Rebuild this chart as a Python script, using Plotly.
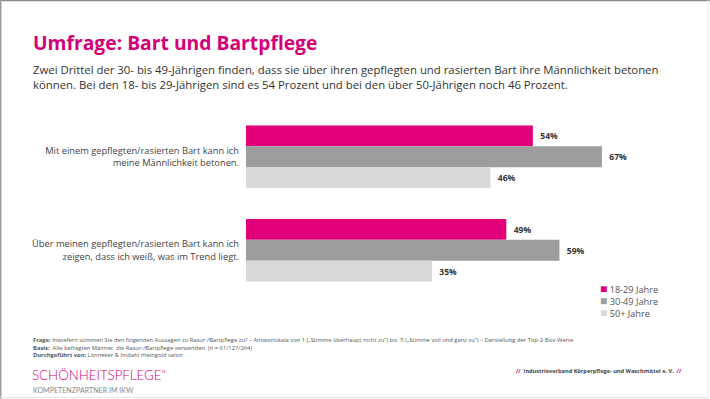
import plotly.graph_objects as go

# ---- data ----
categories = [
    "Mit einem gepflegten/rasierten Bart kann ich<br>meine Männlichkeit betonen.",
    "Über meinen gepflegten/rasierten Bart kann ich<br>zeigen, dass ich weiß, was im Trend liegt.",
]
series_names = ["18-29 Jahre", "30-49 Jahre", "50+ Jahre"]
values_18_29 = [54, 49]
values_30_49 = [67, 59]
values_50_plus = [46, 35]

series_values = [values_18_29, values_30_49, values_50_plus]
colors = ["#E2007A", "#9D9D9D", "#D9D9D9"]

# ---- layout geometry (pixels) ----
W, H = 710, 399
ML, MR, MT, MB = 246, 39, 110, 102
PW, PH = W - ML - MR, H - MT - MB


def px_x(px):
    return (px - ML) / PW


def px_y(py):
    return (H - MB - py) / PH


FONT = "'Open Sans', Lato, sans-serif"

fig = go.Figure()
for name, vals, col in zip(series_names, series_values, colors):
    fig.add_trace(go.Bar(
        y=categories, x=vals, name=name, orientation="h",
        marker=dict(color=col, line=dict(width=0)),
        text=[f"\u00a0\u00a0{v}%" for v in vals],
        textposition="outside", cliponaxis=False,
        textfont=dict(family=FONT, size=8.5, color="#333333", weight="bold"),
        showlegend=False, hoverinfo="skip",
    ))

fig.update_layout(
    width=W, height=H,
    margin=dict(l=ML, r=MR, t=MT, b=MB, pad=0),
    paper_bgcolor="white", plot_bgcolor="white",
    barmode="group", bargap=0.33, bargroupgap=0,
    font=dict(family=FONT, color="#444444"),
    xaxis=dict(range=[0, 80], visible=False, fixedrange=True),
    yaxis=dict(
        range=[1.5, -0.5], showline=False, showgrid=False, zeroline=False,
        ticks="", ticklabelstandoff=6,
        tickfont=dict(family=FONT, size=9.3, color="#444444"),
    ),
)

annotations = []
# title
annotations.append(dict(
    x=px_x(31), y=px_y(43), xref="paper", yref="paper", xanchor="left", yanchor="middle",
    text="Umfrage: Bart und Bartpflege", showarrow=False,
    font=dict(family=FONT, size=19.3, color="#D4007A", weight="bold"),
))
# subtitle
annotations.append(dict(
    x=px_x(31), y=px_y(77), xref="paper", yref="paper", xanchor="left", yanchor="middle",
    align="left", showarrow=False,
    text=("Zwei Drittel der 30- bis 49-Jährigen finden, dass sie über ihren gepflegten und rasierten Bart ihre Männlichkeit betonen<br>"
          "können. Bei den 18- bis 29-Jährigen sind es 54 Prozent und bei den über 50-Jährigen noch 46 Prozent."),
    font=dict(family=FONT, size=11.35, color="#333333"),
))
# legend (built from series) as one multi-line block
legend_lines = [f"<span style='color:{col};font-size:12px'>■</span> {name}"
                for name, col in zip(series_names, colors)]
annotations.append(dict(
    x=px_x(598), y=px_y(300.5), xref="paper", yref="paper",
    xanchor="left", yanchor="middle", align="left", showarrow=False,
    text="<br>".join(legend_lines),
    font=dict(family=FONT, size=9.2, color="#555555"),
))
# footnotes
foot = [
    "<b>Frage:</b> Inwiefern stimmen Sie den folgenden Aussagen zu Rasur-/Bartpflege zu? – Antwortskala von 1 („Stimme überhaupt nicht zu“) bis  5 („Stimme voll und ganz zu“) – Darstellung der Top-2-Box-Werte",
    "<b>Basis:</b>  Alle befragten Männer, die Rasur-/Bartpflege verwenden. (n = 61/127/264)",
    "<b>Durchgeführt von:</b> Lönneker & Imdahl rheingold salon",
]
annotations.append(dict(
    x=px_x(31), y=px_y(347), xref="paper", yref="paper",
    xanchor="left", yanchor="middle", align="left", showarrow=False,
    text="<br>".join(foot),
    font=dict(family=FONT, size=5.8, color="#555555"),
))
annotations.append(dict(
    x=px_x(30), y=px_y(375), xref="paper", yref="paper", xanchor="left", yanchor="middle",
    showarrow=False, text="SCHÖNHEITSPFLEGE\"",
    font=dict(family="Lato, sans-serif", size=13.3, color="#D4007A", weight=300),
))
annotations.append(dict(
    x=px_x(31), y=px_y(390), xref="paper", yref="paper", xanchor="left", yanchor="middle",
    showarrow=False, text="KOMPETENZPARTNER IM IKW",
    font=dict(family="Lato, sans-serif", size=7.1, color="#888888"),
))
annotations.append(dict(
    x=px_x(684), y=px_y(370.5), xref="paper", yref="paper", xanchor="right", yanchor="middle",
    showarrow=False,
    text="<span style='color:#D4007A'>//</span>  Industrieverband Körperpflege- und Waschmittel e. V.  <span style='color:#D4007A'>//</span>",
    font=dict(family=FONT, size=5.6, color="#444444", weight="bold"),
))
fig.update_layout(annotations=annotations)

# frame around the slide
shapes = [
    dict(type="line", xref="paper", yref="paper", x0=px_x(0), x1=px_x(W), y0=px_y(0.5), y1=px_y(0.5),
         line=dict(color="#8a8a8a", width=1.5)),
    dict(type="line", xref="paper", yref="paper", x0=px_x(0.7), x1=px_x(0.7), y0=px_y(0), y1=px_y(H),
         line=dict(color="#9a9a9a", width=1.5)),
    dict(type="line", xref="paper", yref="paper", x0=px_x(708), x1=px_x(708), y0=px_y(0), y1=px_y(398),
         line=dict(color="#e2e2e2", width=1)),
    dict(type="line", xref="paper", yref="paper", x0=px_x(0), x1=px_x(708), y0=px_y(397.5), y1=px_y(397.5),
         line=dict(color="#e2e2e2", width=1)),
]
fig.update_layout(shapes=shapes)

fig.write_html(
    "out.html",
    config={"displayModeBar": False},
    post_script="document.body.style.margin='0';document.body.style.overflow='hidden';",
)
